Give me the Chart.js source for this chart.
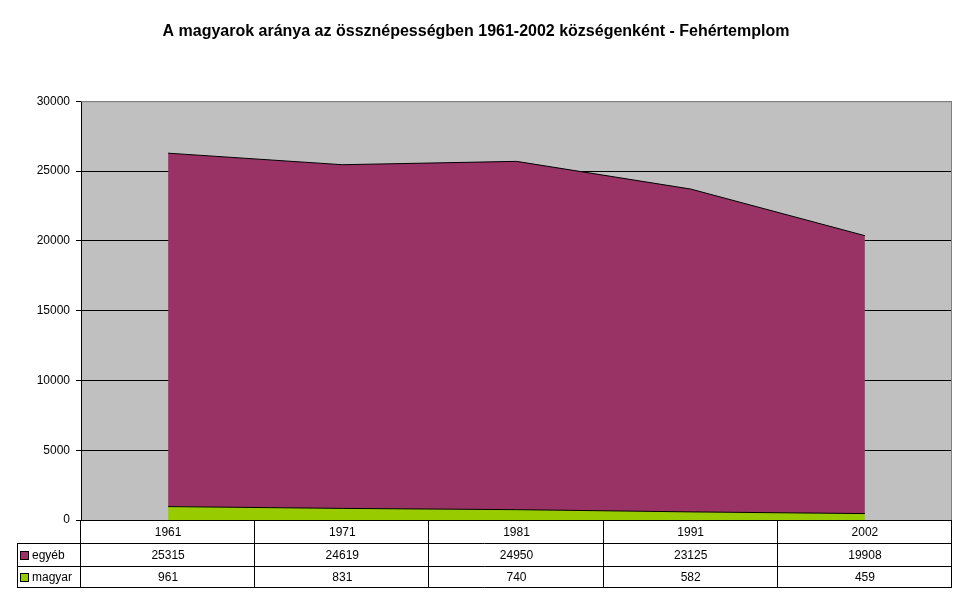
<!DOCTYPE html>
<html>
<head>
<meta charset="utf-8">
<script src="https://cdn.jsdelivr.net/npm/chart.js@4.4.0/dist/chart.umd.min.js"></script>
<style>
  body { margin: 0; background: #fff; }
  #wrap { width: 968px; height: 604px; }
</style>
</head>
<body>
<div id="wrap"><canvas id="myChart"></canvas></div>
<script>
const years = ['1961', '1971', '1981', '1991', '2002'];
const egyeb = [25315, 24619, 24950, 23125, 19908];
const magyar = [961, 831, 740, 582, 459];
const yTicks = [0, 5000, 10000, 15000, 20000, 25000, 30000];

const FONT = 'Arial, "Liberation Sans", sans-serif';

// gray plot area + gray top/right border
const plotBg = {
  id: 'plotBg',
  beforeDraw(chart) {
    const { ctx, chartArea: a } = chart;
    ctx.save();
    ctx.fillStyle = '#c0c0c0';
    ctx.fillRect(a.left, a.top, a.right - a.left, a.bottom - a.top);
    ctx.restore();
  },
  afterDatasetsDraw(chart) {
    const { ctx, chartArea: a } = chart;
    ctx.save();
    ctx.strokeStyle = '#808080';
    ctx.lineWidth = 1;
    ctx.beginPath();
    ctx.moveTo(a.left, a.top + 0.5);
    ctx.lineTo(a.right - 0.5, a.top + 0.5);
    ctx.lineTo(a.right - 0.5, a.bottom);
    ctx.stroke();
    ctx.restore();
  }
};

// data table under the plot
const dataTable = {
  id: 'dataTable',
  afterDraw(chart) {
    const { ctx, chartArea: a } = chart;
    const x = chart.scales.x;
    const colW = (a.right - a.left) / years.length;
    const rows = [a.bottom, a.bottom + 23, a.bottom + 46, a.bottom + 67];
    const legLeft = 17;
    ctx.save();
    ctx.strokeStyle = '#000';
    ctx.lineWidth = 1;
    ctx.beginPath();
    // horizontal lines
    ctx.moveTo(a.left, rows[0] + 0.5); ctx.lineTo(a.right, rows[0] + 0.5);
    for (let r = 1; r < rows.length; r++) {
      ctx.moveTo(legLeft, rows[r] + 0.5); ctx.lineTo(a.right, rows[r] + 0.5);
    }
    // vertical lines
    ctx.moveTo(legLeft + 0.5, rows[1]); ctx.lineTo(legLeft + 0.5, rows[3]);
    for (let i = 0; i <= years.length; i++) {
      const px = Math.round(a.left + i * colW) - 0.5;
      ctx.moveTo(px, rows[0]); ctx.lineTo(px, rows[3]);
    }
    ctx.stroke();

    ctx.fillStyle = '#000';
    ctx.font = '12px ' + FONT;
    ctx.textAlign = 'center';
    ctx.textBaseline = 'middle';
    years.forEach((y, i) => {
      const cx = x.getPixelForValue(i);
      ctx.fillText(y, cx, (rows[0] + rows[1]) / 2 + 1);
      ctx.fillText(String(egyeb[i]), cx, (rows[1] + rows[2]) / 2 + 1);
      ctx.fillText(String(magyar[i]), cx, (rows[2] + rows[3]) / 2 + 1);
    });

    // legend keys
    const keys = [['egyéb', '#993366', rows[1], rows[2]], ['magyar', '#99cc00', rows[2], rows[3]]];
    ctx.textAlign = 'left';
    keys.forEach(([label, color, t, b]) => {
      const my = Math.round((t + b) / 2);
      ctx.fillStyle = color;
      ctx.fillRect(21, my - 3, 7, 7);
      ctx.strokeStyle = '#000';
      ctx.strokeRect(20.5, my - 3.5, 8, 8);
      ctx.fillStyle = '#000';
      ctx.fillText(label, 32, my + 1);
    });
    ctx.restore();
  }
};

const ctx = document.getElementById('myChart');

const config = {
  type: 'line',
  data: {
    labels: years,
    datasets: [
      {
        label: 'magyar',
        data: magyar,
        backgroundColor: '#99cc00',
        borderColor: '#000',
        borderWidth: 1,
        pointRadius: 0,
        fill: 'origin',
        tension: 0
      },
      {
        label: 'egyéb',
        data: egyeb,
        backgroundColor: '#993366',
        borderColor: '#000',
        borderWidth: 1,
        pointRadius: 0,
        fill: '-1',
        tension: 0
      }
    ]
  },
  options: {
    responsive: true,
    maintainAspectRatio: false,
    animation: false,
    layout: { padding: { left: 0, right: 16, bottom: 84 } },
    plugins: {
      legend: { display: false },
      tooltip: { enabled: false },
      title: {
        display: true,
        text: 'A magyarok aránya az össznépességben 1961-2002 községenként - Fehértemplom',
        color: '#000',
        font: { family: FONT, size: 16, weight: 'bold' },
        padding: { top: 22, bottom: 60 }
      }
    },
    scales: {
      x: {
        display: false,
        offset: true,
        stacked: true
      },
      y: {
        stacked: true,
        min: 0,
        max: 30000,
        afterBuildTicks(scale) {
          scale.ticks = yTicks.map(v => ({ value: v }));
        },
        afterFit(scale) { scale.width = 81; },
        ticks: {
          color: '#000',
          font: { family: FONT, size: 12 },
          padding: 6,
          callback: (v) => String(v)
        },
        grid: {
          color: (c) => (c.tick && c.tick.value === 30000 ? '#808080' : '#000'),
          tickLength: 5,
          tickColor: '#000'
        },
        border: { color: '#000', width: 1 }
      }
    }
  },
  plugins: [plotBg, dataTable]
};

if (ctx) {
  const myChart = new Chart(ctx, config);
}
</script>
</body>
</html>
